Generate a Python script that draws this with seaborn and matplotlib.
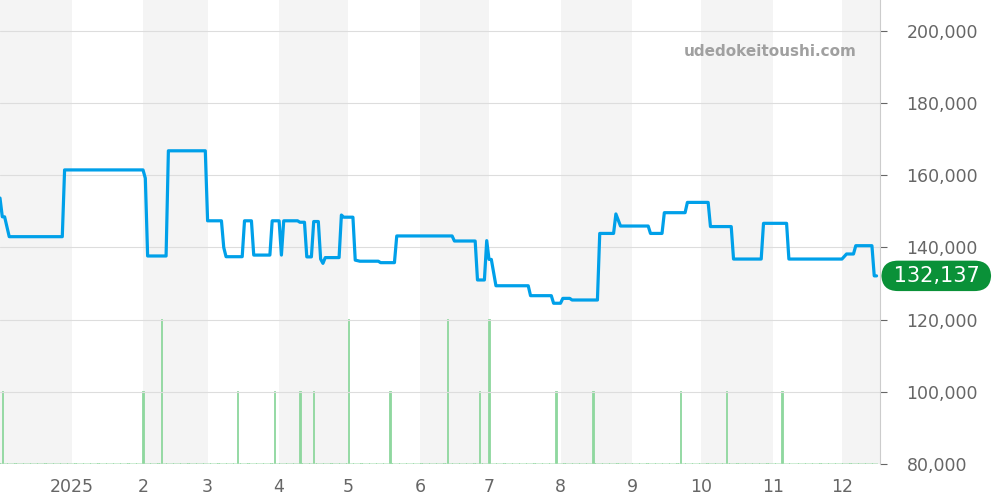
import pandas as pd
import numpy as np
import matplotlib.pyplot as plt
import seaborn as sns

price_dates = ["2024-12-01", "2024-12-02", "2024-12-03", "2024-12-05", "2024-12-28", "2024-12-29",
               "2025-02-01", "2025-02-02", "2025-02-03", "2025-02-11", "2025-02-12", "2025-02-28",
               "2025-03-01", "2025-03-07", "2025-03-08", "2025-03-09", "2025-03-16", "2025-03-17",
               "2025-03-20", "2025-03-21", "2025-03-28", "2025-03-29", "2025-04-01", "2025-04-02",
               "2025-04-03", "2025-04-09", "2025-04-10", "2025-04-12", "2025-04-13", "2025-04-15",
               "2025-04-16", "2025-04-18", "2025-04-19", "2025-04-20", "2025-04-21", "2025-04-27",
               "2025-04-28", "2025-04-29", "2025-05-03", "2025-05-04", "2025-05-06", "2025-05-14",
               "2025-05-15", "2025-05-21", "2025-05-22", "2025-06-15", "2025-06-16", "2025-06-25",
               "2025-06-26", "2025-06-29", "2025-06-30", "2025-07-01", "2025-07-02", "2025-07-04",
               "2025-07-18", "2025-07-19", "2025-07-28", "2025-07-29", "2025-08-01", "2025-08-02",
               "2025-08-05", "2025-08-06", "2025-08-17", "2025-08-18", "2025-08-24", "2025-08-25",
               "2025-08-27", "2025-09-08", "2025-09-09", "2025-09-14", "2025-09-15", "2025-09-24",
               "2025-09-25", "2025-10-04", "2025-10-05", "2025-10-14", "2025-10-15", "2025-10-27",
               "2025-10-28", "2025-11-07", "2025-11-08", "2025-12-01", "2025-12-03", "2025-12-06",
               "2025-12-07", "2025-12-14", "2025-12-15", "2025-12-16"]
prices = [153700, 148500, 148500, 143000, 143000, 161500,
          161500, 159200, 137650, 137650, 166800, 166800,
          147400, 147400, 140000, 137450, 137450, 147400,
          147400, 137900, 137900, 147400, 147400, 137900,
          147400, 147400, 147000, 147000, 137400, 137400,
          147200, 147200, 136800, 135600, 137200, 137200,
          149000, 148400, 148400, 136500, 136200, 136200,
          135800, 135800, 143200, 143200, 141800, 141800,
          131000, 131000, 141900, 136700, 136700, 129400,
          129400, 126650, 126650, 124550, 124550, 125900,
          125900, 125450, 125450, 143900, 143900, 149300,
          145950, 145950, 143900, 143900, 149650, 149650,
          152500, 152500, 145800, 145800, 136800, 136800,
          146700, 146700, 136800, 136800, 138200, 138200,
          140500, 140500, 132137, 132137]

sale_dates = ["2024-12-02", "2025-02-01", "2025-02-09", "2025-03-14", "2025-03-30", "2025-04-10",
              "2025-04-16", "2025-05-01", "2025-05-19", "2025-06-13", "2025-06-27", "2025-07-01",
              "2025-07-30", "2025-08-15", "2025-09-22", "2025-10-12", "2025-11-05"]
sale_counts = [1, 1, 2, 1, 1, 1, 1, 2, 1, 2, 1, 2, 1, 1, 1, 1, 1]

tick_months = ["2025-01-01", "2025-02-01", "2025-03-01", "2025-04-01", "2025-05-01", "2025-06-01",
               "2025-07-01", "2025-08-01", "2025-09-01", "2025-10-01", "2025-11-01", "2025-12-01"]
tick_labels = ["2025", "2", "3", "4", "5", "6", "7", "8", "9", "10", "11", "12"]
shaded_months = ["2024-12-01", "2025-02-01", "2025-04-01", "2025-06-01", "2025-08-01",
                 "2025-10-01", "2025-12-01"]
y_ticks = [80000, 100000, 120000, 140000, 160000, 180000, 200000]

df = pd.DataFrame({"date": pd.to_datetime(price_dates), "price": prices})

# daily volume, zero on days without a sale
days = pd.date_range("2024-12-01", "2025-12-16", freq="D")
vol = pd.Series(0, index=days)
vol[pd.to_datetime(sale_dates)] = sale_counts

sns.set_style("white")
fig = plt.figure(figsize=(10, 5), dpi=100)
ax = fig.add_axes([0, 0.072, 0.88, 0.928])
ax2 = ax.twinx()
ax.set_zorder(2)
ax.patch.set_visible(False)
ax2.set_zorder(1)

x_left = pd.Timestamp("2024-12-01")
x_right = pd.Timestamp("2025-12-17 12:00")

for s in shaded_months:
    start = pd.Timestamp(s)
    end = min(start + pd.offsets.MonthBegin(1), x_right)
    ax2.axvspan(start, end, color="#f4f4f4", lw=0, zorder=0)

ax2.bar(vol.index, vol.values, width=0.6, color="#8fd79f", edgecolor="#8fd79f", linewidth=0.6, zorder=2)
ax2.set_ylim(-0.02, 464 / 72.2)
ax2.set_yticks([])
ax2.set_xlim(x_left, x_right)

sns.lineplot(data=df, x="date", y="price", ax=ax, color="#00a0e9", lw=2.3, zorder=3)
ax.set_xlim(x_left, x_right)
ax.set_ylim(80000, 200000 + 31 * 120000 / 433)

ax.yaxis.tick_right()
ax.set_yticks(y_ticks)
ax.set_yticklabels([f"{v:,}" for v in y_ticks])
ax.set_xticks(pd.to_datetime(tick_months))
ax.set_xticklabels(tick_labels)
ax.grid(axis="y", color="#dddddd", lw=0.8)
ax.set_axisbelow(True)
ax.tick_params(axis="both", colors="#666666", labelsize=12.5, length=5, width=0.8, pad=14)
ax.tick_params(axis="x", pad=6, length=4)
ax.set_xlabel("")
ax.set_ylabel("")
for sp in ["top", "left", "bottom"]:
    ax.spines[sp].set_visible(False)
    ax2.spines[sp].set_visible(False)
ax.spines["right"].set_color("#cccccc")
ax2.spines["right"].set_visible(False)

ax.text(0.974, 0.888, "udedokeitoushi.com", transform=ax.transAxes, ha="right", va="center",
        fontsize=11, fontweight="bold", color="#a0a0a0")

last = prices[-1]
ax.annotate(f" {last:,} ", xy=(1, last), xycoords=("axes fraction", "data"),
            xytext=(40.5, 0), textcoords="offset points", ha="center", va="center",
            fontsize=15, color="white", annotation_clip=False,
            bbox=dict(boxstyle="round,pad=0.25,rounding_size=0.8", fc="#0a9138", ec="none"))

plt.savefig("out.png", dpi=100)
